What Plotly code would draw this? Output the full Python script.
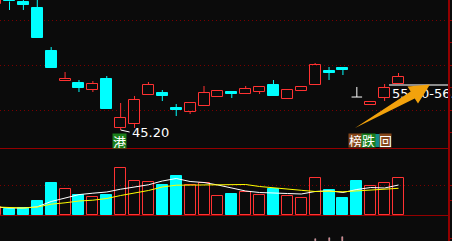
import plotly.graph_objects as go

W, H = 452, 241

# ---------------- data ----------------
idx = list(range(30))
opens  = [73.31, 75.20, 73.64, 72.31, 62.76, 56.09, 55.64, 54.09, 56.53, 45.64,
          46.53, 52.98, 53.42, 50.09, 49.20, 50.53, 52.53, 53.64, 53.20, 53.64,
          55.20, 52.09, 53.87, 55.20, 58.31, 58.98, 52.53, 50.76, 52.31, 55.42]
closes = [73.98, 73.76, 72.98, 65.64, 58.98, 56.53, 54.53, 55.42, 49.87, 47.87,
          51.87, 55.20, 52.76, 49.64, 51.20, 53.42, 53.87, 53.20, 54.31, 54.76,
          52.76, 54.09, 54.76, 59.64, 57.87, 58.53, 52.53, 51.42, 54.53, 56.98]
highs  = [74.76, 76.31, 74.53, 74.31, 63.64, 58.09, 56.31, 56.09, 57.20, 51.20,
          52.76, 55.87, 54.09, 50.98, 51.20, 54.98, 53.87, 53.87, 54.98, 54.76,
          56.31, 54.09, 54.76, 60.09, 59.20, 59.20, 54.76, 51.42, 55.42, 57.87]
lows   = [73.31, 71.87, 71.87, 65.64, 58.98, 56.09, 53.64, 53.64, 49.87, 45.20,
          45.64, 52.98, 51.64, 48.31, 48.76, 50.53, 52.53, 52.31, 53.20, 53.20,
          52.76, 52.09, 53.87, 55.20, 56.31, 57.42, 52.53, 50.76, 51.64, 55.42]
volumes = [4, 3, 3.5, 7, 16, 13, 10, 9, 10, 23.5, 17, 16.5, 15, 19.5, 15, 16,
           9.5, 10.5, 11.5, 10, 13, 9.5, 8.5, 18.5, 12.5, 8.5, 17, 14.5, 16, 18.5]
vol_ma5 = [4.0, 3.5, 3.5, 4.1, 6.75, 8.6, 10.2, 10.9, 11.5, 12.9, 14.0, 15.1,
           17.0, 18.25, 16.75, 16.25, 15.0, 13.5, 12.0, 11.25, 10.85, 10.75,
           10.5, 11.75, 12.1, 11.25, 12.75, 13.75, 13.5, 15.0]
vol_ma10 = [4.0, 3.6, 3.5, 4.0, 5.4, 6.1, 7.0, 7.4, 8.25, 9.75, 11.0, 12.25,
            14.0, 14.9, 14.95, 15.0, 15.15, 15.35, 15.25, 14.25, 13.5, 12.75,
            12.35, 11.75, 11.9, 11.6, 12.1, 12.35, 12.75, 13.35]
macd_idx = [23, 24, 25]
macd_val = [2, 3, 4]
low_label = "45.20"
low_index = 9
target_label = "55.20-56.50"
target_price = 55.20
tag_left = "港"
tags_right = ["榜", "跌", "回"]

# ---------------- styles ----------------
BG = "#0b0b0b"
RED = "#ff3232"
CYAN = "#00ffff"
WHITE = "#ffffff"
DARKRED = "#940000"
GRID = "#7a0000"
PX_PER_X = 13.893
BODY_W = 11 / PX_PER_X
XR = [4.393 / PX_PER_X, (448 + 4.393) / PX_PER_X]
XDOM = [0, 448 / W]


def ccolor(i):
    if closes[i] > opens[i]:
        return "red"
    if closes[i] < opens[i]:
        return "cyan"
    return "white"


fig = go.Figure()

# wicks
for key, col in (("red", RED), ("cyan", CYAN), ("white", WHITE)):
    wx, wy = [], []
    for i in idx:
        if ccolor(i) != key:
            continue
        top, bot = max(opens[i], closes[i]), min(opens[i], closes[i])
        wx += [i, i, None, i, i, None]
        wy += [top, highs[i], None, bot, lows[i], None]
    if wx:
        fig.add_trace(go.Scatter(x=wx, y=wy, mode="lines", line=dict(color=col, width=1),
                                 hoverinfo="skip", xaxis="x", yaxis="y"))

# bodies
for key, fill, col in (("red", "rgba(0,0,0,0)", RED), ("cyan", CYAN, CYAN)):
    bx = [i for i in idx if ccolor(i) == key]
    fig.add_trace(go.Bar(x=bx, y=[abs(closes[i] - opens[i]) for i in bx],
                         base=[min(opens[i], closes[i]) for i in bx], width=BODY_W,
                         marker=dict(color=fill, line=dict(color=col, width=1)),
                         hoverinfo="skip", xaxis="x", yaxis="y"))

# doji bodies
dx, dy = [], []
for i in idx:
    if ccolor(i) == "white":
        dx += [i - 0.38, i + 0.38, None]
        dy += [opens[i], opens[i], None]
fig.add_trace(go.Scatter(x=dx, y=dy, mode="lines", line=dict(color=WHITE, width=1),
                         hoverinfo="skip", xaxis="x", yaxis="y"))


# volume colours
def vcolor(i):
    c = ccolor(i)
    if c != "white":
        return c
    return "red" if i > 0 and closes[i] >= closes[i - 1] else "cyan"


for key, fill, col in (("red", "rgba(0,0,0,0)", RED), ("cyan", CYAN, CYAN)):
    vx = [i for i in idx if vcolor(i) == key]
    fig.add_trace(go.Bar(x=vx, y=[volumes[i] for i in vx], width=BODY_W,
                         marker=dict(color=fill, line=dict(color=col, width=1)),
                         hoverinfo="skip", xaxis="x2", yaxis="y2"))

fig.add_trace(go.Scatter(x=idx, y=vol_ma5, mode="lines", line=dict(color=WHITE, width=1),
                         hoverinfo="skip", xaxis="x2", yaxis="y2"))
fig.add_trace(go.Scatter(x=idx, y=vol_ma10, mode="lines", line=dict(color="#ffff00", width=1),
                         hoverinfo="skip", xaxis="x2", yaxis="y2"))

# lower indicator
fig.add_trace(go.Bar(x=macd_idx, y=macd_val, width=1.0 / PX_PER_X,
                     marker=dict(color=RED), hoverinfo="skip", xaxis="x3", yaxis="y3"))

# target text (trace so the arrow shape can overlap it)
fig.add_trace(go.Scatter(x=[(392 + 4.393) / PX_PER_X], y=[target_price - 2.2], mode="text",
                         text=[target_label], textposition="middle right",
                         textfont=dict(family="DejaVu Sans", size=13, color=WHITE),
                         cliponaxis=False, hoverinfo="skip", xaxis="x", yaxis="y"))

P_TOP = 74.089
P_BOT = P_TOP - 148 / 4.5

ax_common = dict(visible=False, range=XR, domain=XDOM)
yax_common = dict(side="right", showticklabels=False, zeroline=False, showline=False,
                  ticks="outside", ticklen=4, tickcolor=DARKRED, tickwidth=1,
                  gridcolor=GRID, griddash="1px,3px", gridwidth=1, showgrid=True)

fig.update_layout(
    width=W, height=H, autosize=False,
    margin=dict(l=0, r=0, t=0, b=0, pad=0),
    paper_bgcolor=BG, plot_bgcolor=BG,
    showlegend=False, barmode="overlay", bargap=0,
    xaxis=dict(anchor="y", **ax_common),
    xaxis2=dict(anchor="y2", **ax_common),
    xaxis3=dict(anchor="y3", **ax_common),
    yaxis=dict(anchor="x", domain=[1 - 148 / H, 1], range=[P_BOT, P_TOP],
               tickmode="array", tickvals=[P_TOP - 20 / 4.5, P_TOP - 65 / 4.5, P_TOP - 110 / 4.5],
               minor=dict(tickmode="array", tickvals=[P_TOP - 42.5 / 4.5, P_TOP - 87.5 / 4.5, P_TOP - 132.5 / 4.5],
                          ticks="outside", ticklen=4, tickcolor=DARKRED, showgrid=False),
               **yax_common),
    yaxis2=dict(anchor="x2", domain=[26 / H, 1 - 148 / H], range=[0, 33.5],
                tickmode="array", tickvals=[15],
                minor=dict(tickmode="array", tickvals=[7.5], ticks="outside", ticklen=4,
                           tickcolor=DARKRED, showgrid=False),
                **yax_common),
    yaxis3=dict(anchor="x3", domain=[0, 26 / H], range=[0, 26], tickmode="array",
                tickvals=[3], side="right", showticklabels=False, zeroline=False,
                showgrid=False, ticks="outside", ticklen=4, tickcolor=DARKRED),
)


def P(px, py):
    return f"{px / W:.5f},{1 - py / H:.5f}"


shapes = [
    dict(type="line", xref="paper", yref="paper", x0=0, x1=448 / W,
         y0=1 - 148.5 / H, y1=1 - 148.5 / H, line=dict(color=DARKRED, width=1)),
    dict(type="line", xref="paper", yref="paper", x0=0, x1=448 / W,
         y0=1 - 215.5 / H, y1=1 - 215.5 / H, line=dict(color=DARKRED, width=1)),
    dict(type="line", xref="paper", yref="paper", x0=449 / W, x1=449 / W,
         y0=0, y1=1, line=dict(color=DARKRED, width=2)),
    dict(type="line", xref="paper", yref="y", x0=389 / W, x1=448 / W,
         y0=target_price, y1=target_price, line=dict(color="#8c8c8c", width=2)),
    dict(type="rect", xref="paper", yref="paper", x0=374 / W, x1=381 / W,
         y0=1 - 147 / H, y1=1 - 134 / H, fillcolor="#128a8a", line=dict(width=0)),
    dict(type="path", xref="paper", yref="paper", layer="above",
         path="M " + P(355, 128) + " L " + P(410.7, 91.4) + " L " + P(407.5, 86.5)
              + " L " + P(430, 84.5) + " L " + P(418, 103.5) + " L " + P(414.7, 98.4) + " Z",
         fillcolor="#f2a20c", line=dict(width=0)),
]
fig.update_layout(shapes=shapes)

annotations = [
    dict(x=low_index, y=lows[low_index], xref="x", yref="y", text=low_label,
         showarrow=True, arrowhead=0, arrowwidth=1, arrowcolor=WHITE, ax=9, ay=2,
         xanchor="left", yanchor="middle", standoff=0,
         font=dict(family="DejaVu Sans", size=13, color=WHITE)),
    dict(x=119.5 / W, y=1 - 141 / H, xref="paper", yref="paper", text=tag_left,
         showarrow=False, bgcolor="#1b7f1b", width=13, height=14, borderpad=0,
         xanchor="center", yanchor="middle",
         font=dict(family="Noto Sans CJK SC", size=13, color=WHITE)),
]
tag_specs = [(355.5, 13, "#85461a"), (368.5, 13, "#1b7f1b"), (385, 11, "#85461a")]
for t, (cx, w, bg) in zip(tags_right, tag_specs):
    annotations.append(dict(x=cx / W, y=1 - 140.5 / H, xref="paper", yref="paper", text=t,
                            showarrow=False, bgcolor=bg, width=w, height=13, borderpad=0,
                            xanchor="center", yanchor="middle",
                            font=dict(family="Noto Sans CJK SC", size=13, color=WHITE)))
fig.update_layout(annotations=annotations)

fig.write_html("out.html", config={"displayModeBar": False})
